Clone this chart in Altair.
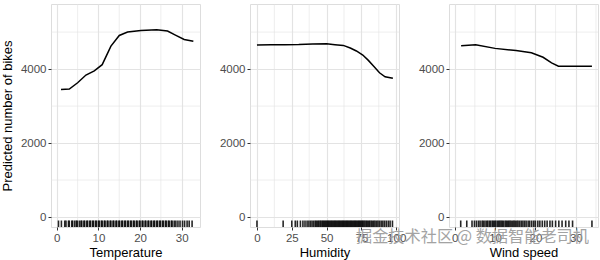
import altair as alt
import pandas as pd

# Partial dependence curves
temp_x = [1.0, 3.0, 5.0, 7.0, 9.0, 10.9, 13.0, 15.0, 17.0, 20.2, 24.0, 26.6, 28.5, 30.6, 32.8]
temp_y = [3450, 3460, 3630, 3840, 3950, 4120, 4620, 4910, 5000, 5045, 5065, 5030, 4920, 4800, 4750]

hum_x = [0, 10, 20, 30, 40, 50, 56, 62, 67, 71.4, 76, 80, 84, 88, 92, 97.6]
hum_y = [4650, 4655, 4660, 4665, 4680, 4685, 4660, 4640, 4570, 4490, 4380, 4235, 4070, 3900, 3790, 3750]

wind_x = [1.6, 5.2, 10.0, 15.2, 19.0, 21.9, 24.0, 25.7, 30.0, 34.0]
wind_y = [4630, 4660, 4560, 4500, 4440, 4320, 4170, 4080, 4080, 4080]

# Rug values (observed feature values, estimated)
temp_rug = [0.4, 1.1, 1.9, 2.2, 2.8, 3.0, 3.6, 3.8, 4.3, 4.7, 4.9, 5.4, 5.8, 6.0, 6.5, 6.7, 7.2, 7.4, 7.9, 8.1,
            8.6, 8.8, 9.3, 9.5, 10.0, 10.2, 10.7, 10.9, 11.4, 11.6, 12.1, 12.3, 12.8, 13.0, 13.5, 13.7, 14.2,
            14.4, 14.9, 15.1, 15.6, 15.8, 16.3, 16.5, 17.0, 17.2, 17.7, 17.9, 18.4, 18.6, 19.1, 19.3, 19.8,
            20.0, 20.5, 20.7, 21.2, 21.4, 21.9, 22.1, 22.6, 22.8, 23.3, 23.5, 24.0, 24.2, 24.7, 24.9, 25.4,
            25.6, 26.1, 26.3, 26.8, 27.0, 27.5, 27.7, 28.2, 28.6, 29.1, 29.6, 30.2, 30.7, 31.3, 31.8, 32.5]
hum_rug = [0.0, 18.8, 25.0, 27.5, 29.0, 31.2, 33.0, 34.5, 36.0, 37.3, 38.5, 39.6, 40.8, 41.9, 42.7, 43.6,
           44.4, 45.3, 46.0, 46.9, 47.6, 48.4, 49.1, 49.9, 50.6, 51.3, 52.0, 52.8, 53.5, 54.2, 55.0, 55.7,
           56.4, 57.1, 57.9, 58.6, 59.3, 60.0, 60.8, 61.5, 62.2, 62.9, 63.7, 64.4, 65.1, 65.8, 66.6, 67.3,
           68.0, 68.7, 69.5, 70.2, 70.9, 71.6, 72.4, 73.1, 73.8, 74.5, 75.3, 76.0, 76.8, 77.6, 78.5, 79.3,
           80.2, 81.0, 82.0, 82.9, 83.9, 84.8, 85.9, 86.9, 88.0, 89.2, 90.4, 91.6, 92.9, 94.3, 95.6, 97.3]
wind_rug = [1.5, 3.0, 4.3, 4.9, 5.4, 5.9, 6.3, 6.8, 7.1, 7.5, 7.9, 8.2, 8.6, 8.9, 9.3, 9.6, 9.9, 10.2,
            10.6, 10.9, 11.2, 11.5, 11.8, 12.1, 12.5, 12.8, 13.1, 13.4, 13.7, 14.0, 14.4, 14.7, 15.0, 15.4,
            15.7, 16.1, 16.5, 16.9, 17.3, 17.7, 18.2, 18.6, 19.1, 19.6, 20.0, 20.6, 21.1, 21.7, 22.3, 22.9,
            23.6, 24.2, 25.0, 25.8, 26.6, 27.5, 28.3, 29.2, 34.0]

# Tick labels / grid positions
y_major = [0, 2000, 4000]
y_minor = [1000, 3000, 5000]
temp_major, temp_minor = [0, 10, 20, 30], [5, 15, 25]
hum_major, hum_minor = [0, 25, 50, 75, 100], [12.5, 37.5, 62.5, 87.5]
wind_major, wind_minor = [0, 10, 20, 30], [5, 15, 25, 35]
y_domain = [-270, 5760]

FONT = "Liberation Sans"
GRID = "#E3E3E3"
W, H = 149, 223


def panel(xs, ys, rug, title, xdomain, xmajor, xminor, show_ytitle):
    curve = pd.DataFrame({"x": xs, "y": ys})
    rugdf = pd.DataFrame({"x": rug})
    xscale = alt.Scale(domain=xdomain, nice=False, zero=False)
    yscale = alt.Scale(domain=y_domain, nice=False, zero=False)
    xaxis = alt.Axis(
        title=title, values=xmajor, grid=True, domain=False,
        gridColor=GRID, gridWidth=1.2, labelOverlap=False,
        tickColor="#333333", tickSize=3, labelPadding=2,
        labelColor="#4D4D4D", labelFont=FONT, labelFontSize=11.5,
        titleFont=FONT, titleFontSize=13, titleFontWeight="normal", titleColor="black",
        titlePadding=3, labelFlush=False,
    )
    yaxis = alt.Axis(
        title="Predicted number of bikes" if show_ytitle else None,
        values=y_major, grid=True, domain=False, gridColor=GRID, gridWidth=1.2,
        labelOverlap=False, format="d",
        tickColor="#333333", tickSize=3, labelPadding=2,
        labelColor="#4D4D4D", labelFont=FONT, labelFontSize=11.5,
        titleFont=FONT, titleFontSize=13, titleFontWeight="normal", titleColor="black",
        titlePadding=6,
    )
    line = alt.Chart(curve).mark_line(color="black", strokeWidth=1.5).encode(
        x=alt.X("x:Q", scale=xscale, axis=xaxis, title=title),
        y=alt.Y("y:Q", scale=yscale, axis=yaxis),
    )
    xmin = alt.Chart(pd.DataFrame({"x": xminor})).mark_rule(color=GRID, strokeWidth=0.6).encode(
        x=alt.X("x:Q", scale=xscale, axis=xaxis, title=title)
    )
    ymin = alt.Chart(pd.DataFrame({"y": y_minor})).mark_rule(color=GRID, strokeWidth=0.6).encode(
        y=alt.Y("y:Q", scale=yscale, axis=yaxis)
    )
    rugs = alt.Chart(rugdf).mark_rule(color="black", opacity=0.85, strokeWidth=1.6).encode(
        x=alt.X("x:Q", scale=xscale, axis=xaxis, title=title),
        y=alt.value(216.5),
        y2=alt.value(H),
    )
    return alt.layer(xmin, ymin, line, rugs).properties(width=W, height=H)


p1 = panel(temp_x, temp_y, temp_rug, "Temperature", [-1.4, 34.4], temp_major, temp_minor, True)
p2 = panel(hum_x, hum_y, hum_rug, "Humidity", [-5, 102], hum_major, hum_minor, False)
p3 = panel(wind_x, wind_y, wind_rug, "Wind speed", [-1.4, 35.5], wind_major, wind_minor, False)

wm = alt.Chart(pd.DataFrame({"t": ["掘金技术社区 @ 数据智能老司机"]})).mark_text(
    align="right", baseline="middle", font="Noto Sans CJK SC", fontSize=16.2,
    color="#9A9A9A", opacity=0.9,
).encode(text="t:N", x=alt.value(W - 9), y=alt.value(H + 10))
p3 = alt.layer(p3, wm)

chart = alt.hconcat(p1, p2, p3, spacing=50, bounds="flush").properties(
    padding={"left": 0, "top": 3, "right": 0, "bottom": 0}
).configure_view(stroke="#333333", strokeWidth=1).configure_axis(
    labelOverlap=False
).configure(background="white")

chart.save("out.html", embed_options={"renderer": "svg", "actions": False})
